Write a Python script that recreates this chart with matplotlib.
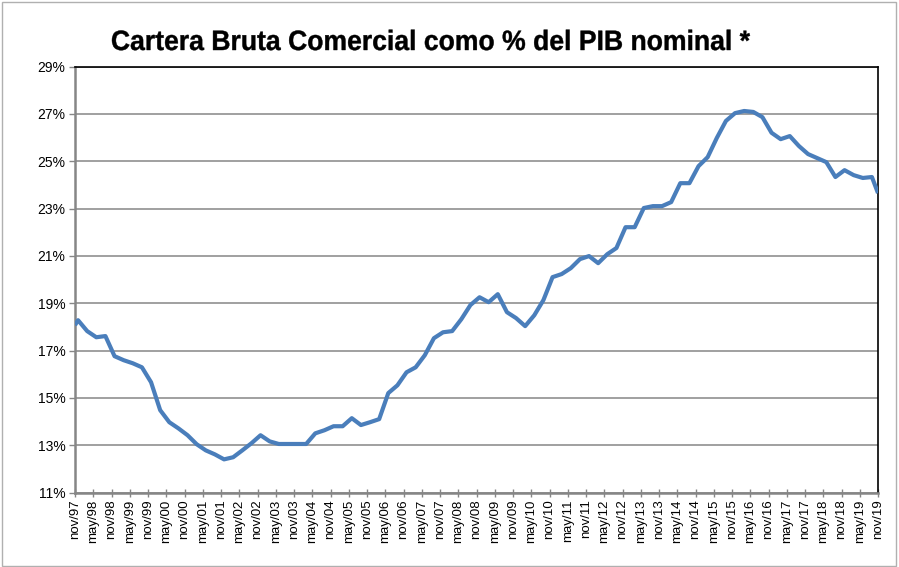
import matplotlib
matplotlib.use("Agg")
import matplotlib.pyplot as plt
from matplotlib import font_manager
from matplotlib.font_manager import FontProperties
from matplotlib.patches import Rectangle, PathPatch
from matplotlib.textpath import TextPath
from matplotlib.transforms import Affine2D

# months counted from nov/97; first and last points are the nov readings,
# the rest are quarter ends (dec, mar, jun, sep)
months = [0] + list(range(1, 263, 3)) + [264]

cartera = [
    18.07,
    18.28, 17.82, 17.56, 17.61, 16.76, 16.59, 16.46, 16.29, 15.66, 14.48,
    13.97, 13.71, 13.42, 13.04, 12.78, 12.61, 12.40, 12.49, 12.78, 13.08,
    13.42, 13.16, 13.05, 13.05, 13.05, 13.05, 13.50, 13.63, 13.80, 13.80,
    14.14, 13.85, 13.97, 14.10, 15.20, 15.53, 16.08, 16.29, 16.80, 17.52,
    17.77, 17.82, 18.32, 18.92, 19.25, 19.04, 19.38, 18.62, 18.37, 18.03,
    18.49, 19.13, 20.10, 20.23, 20.48, 20.86, 20.99, 20.69, 21.07, 21.33,
    22.21, 22.21, 23.02, 23.10, 23.10, 23.27, 24.07, 24.07, 24.79, 25.17,
    25.98, 26.70, 27.03, 27.12, 27.08, 26.86, 26.20, 25.93, 26.06, 25.64,
    25.30, 25.13, 24.96, 24.33, 24.62, 24.41, 24.29, 24.33,
    23.65,
]

tick_months = list(range(0, 265, 6))
tick_labels = [("nov/%02d" if i % 2 == 0 else "may/%02d") % ((97 + (i + 1) // 2) % 100)
               for i in range(len(tick_months))]
y_ticks = [11, 13, 15, 17, 19, 21, 23, 25, 27, 29]

title = "Cartera Bruta Comercial como % del PIB nominal *"

names = {f.name for f in font_manager.fontManager.ttflist}
base_font = "Liberation Sans" if "Liberation Sans" in names else "DejaVu Sans"
plt.rcParams["font.family"] = base_font

W, H = 899, 567
fig = plt.figure(figsize=(W / 100, H / 100), dpi=100)
ax = fig.add_axes([75 / W, 1 - 492.5 / H, (878 - 75) / W, (492.5 - 66.5) / H])

ax.plot(months, cartera, color="#4a7ebb", lw=3.0, solid_joinstyle="round",
        solid_capstyle="butt", zorder=3)

ax.set_xlim(0, 264)
ax.set_ylim(11, 29)
ax.set_yticks(y_ticks)
ax.set_yticklabels(["%d%%" % v for v in y_ticks], fontsize=10)
ax.set_xticks(tick_months)
ax.set_xticklabels(tick_labels, rotation=90, fontsize=9.5)

ax.grid(axis="y", color="#868686", lw=1.1)
ax.set_axisbelow(True)

for side in ("left", "bottom"):
    ax.spines[side].set_color("#868686")
    ax.spines[side].set_linewidth(1.8)
for side in ("top", "right"):
    ax.spines[side].set_color("black")
    ax.spines[side].set_linewidth(1.2)

ax.tick_params(axis="x", direction="inout", length=6, width=1, color="#868686", pad=2)
ax.tick_params(axis="y", direction="out", length=4, width=1, color="#868686", pad=3)

# title drawn as a horizontally squeezed path (condensed bold look)
tp = TextPath((0, 0), title, size=28, prop=FontProperties(family=base_font, weight="bold"))
ext = tp.get_extents()
sx = 638 / ext.width
title_tf = Affine2D().translate(-ext.x0, 0).scale(sx, 1.0).translate(112, H - 50)
fig.patches.append(PathPatch(tp, transform=title_tf, facecolor="black", edgecolor="black",
                             lw=0.3))

# thin frame round the whole chart
fig.patches.append(Rectangle((0.002, 0.002), 0.995, 0.995, transform=fig.transFigure,
                             fill=False, edgecolor="#b0b0b0", lw=1))

fig.savefig("out.png", dpi=100)
